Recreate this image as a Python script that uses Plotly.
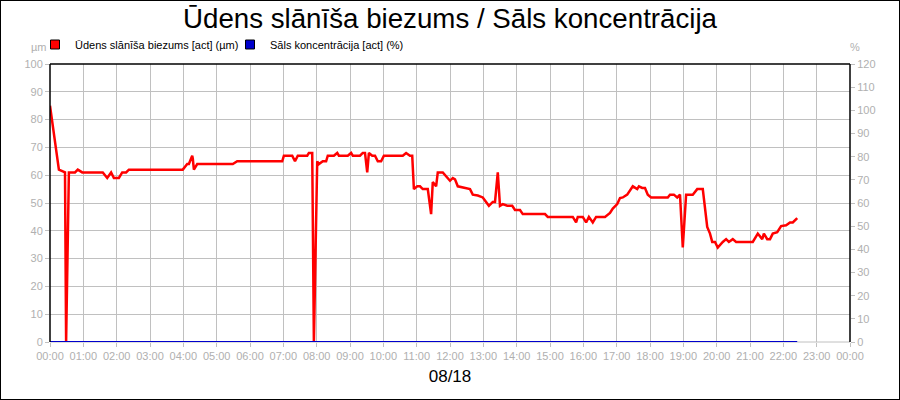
import plotly.graph_objects as go

DAY = "2000-08-18 "

times = [
    "00:00", "00:16", "00:27", "00:29", "00:34", "00:45", "00:50", "00:58",
    "01:35", "01:43", "01:50", "01:55", "02:04", "02:10", "02:17", "02:22",
    "03:59", "04:07", "04:10", "04:16", "04:17", "04:19", "04:25", "05:29",
    "05:37", "06:58", "07:01", "07:16", "07:21", "07:26", "07:43", "07:46",
    "07:52", "07:55", "08:01", "08:04", "08:11", "08:17", "08:20", "08:31",
    "08:37", "08:40", "08:56", "09:02", "09:05", "09:18", "09:23", "09:27",
    "09:31", "09:34", "09:40", "09:45", "09:50", "09:56", "10:01", "10:35",
    "10:41", "10:48", "10:52", "10:55", "11:01", "11:06", "11:11", "11:20",
    "11:26", "11:29", "11:35", "11:38", "11:47", "11:56", "12:00", "12:05",
    "12:09", "12:14", "12:23", "12:36", "12:41", "12:50", "12:59", "13:07",
    "13:10", "13:17", "13:21", "13:26", "13:30", "13:35", "13:43", "13:52",
    "13:57", "14:06", "14:11", "14:51", "14:56", "15:41", "15:47", "15:50",
    "15:59", "16:05", "16:10", "16:17", "16:23", "16:39", "16:48", "16:53",
    "17:01", "17:06", "17:11", "17:19", "17:24", "17:29", "17:37", "17:40",
    "17:46", "17:51", "17:56", "18:02", "18:32", "18:36", "18:43", "18:49",
    "18:54", "18:59", "19:05", "19:17", "19:25", "19:35", "19:43", "19:48",
    "19:52", "19:57", "20:02", "20:06", "20:11", "20:17", "20:22", "20:29",
    "20:35", "21:05", "21:09", "21:14", "21:22", "21:25", "21:31", "21:36",
    "21:41", "21:49", "21:56", "22:05", "22:12", "22:17", "22:25",
]

water_um = [
    85, 62, 61, 0, 61, 61, 62, 61,
    61, 59, 61, 59, 59, 61, 61, 62,
    62, 64, 64, 67, 66, 62, 64, 64,
    65, 65, 67, 67, 65, 67, 67, 68,
    68, 0, 65, 64, 65, 65, 67, 67,
    68, 67, 67, 68, 67, 67, 68, 68,
    61, 68, 67, 67, 65, 65, 67, 67,
    68, 67, 67, 55, 56, 56, 55, 55,
    46, 57.5, 56, 61, 61, 59, 58, 59,
    58.5, 56, 55.5, 55, 53, 52.7, 52, 50,
    49, 50.4, 50.4, 61, 49, 49.6, 49, 49,
    47.5, 47.5, 46, 46, 45, 45, 43, 45,
    45, 43, 45, 43, 45, 45, 46.4, 48,
    49.6, 51.8, 52, 53, 54.7, 56, 55, 56,
    55.4, 55.4, 53, 52, 52, 53, 53, 52,
    53, 34, 53, 53, 55, 55, 41.4, 39,
    36, 36, 34, 35, 36, 37, 36, 37,
    36, 36, 37.4, 39, 37, 39, 37, 37,
    39, 39.5, 41.7, 42, 43, 43, 44.6,
]

salt_pct = [0] * len(times)

x_dt = [DAY + t for t in times]

name_water = "Ūdens slānīša biezums [act] (µm)"
name_salt = "Sāls koncentrācija [act] (%)"
chart_title = "Ūdens slānīša biezums / Sāls koncentrācija"
x_title = "08/18"

RED = "#ff0000"
BLUE = "#0000cc"
GRID = "#c0c0c0"
TICKC = "#b0b0b0"

fig = go.Figure()
fig.add_trace(go.Scatter(x=x_dt, y=water_um, mode="lines", line=dict(color=RED, width=2.5),
                         showlegend=False, yaxis="y"))
fig.add_trace(go.Scatter(x=x_dt, y=salt_pct, mode="lines", line=dict(color=BLUE, width=2),
                         showlegend=False, yaxis="y2"))
# legend entries (square swatches)
fig.add_trace(go.Scatter(x=[None], y=[None], mode="markers", name=name_water, legend="legend",
                         marker=dict(symbol="square", size=9, color=RED, line=dict(color="black", width=1))))
fig.add_trace(go.Scatter(x=[None], y=[None], mode="markers", name=name_salt, legend="legend2",
                         marker=dict(symbol="square", size=9, color=BLUE, line=dict(color="black", width=1))))

leg_common = dict(orientation="h", xanchor="left", yanchor="bottom",
                  xref="container", yref="container",
                  font=dict(size=11, color="black"), bgcolor="rgba(0,0,0,0)")

fig.update_layout(
    width=900, height=400,
    margin=dict(l=50, r=50, t=64, b=58, autoexpand=False),
    paper_bgcolor="white", plot_bgcolor="white",
    font=dict(family="Liberation Sans, Arial, sans-serif", size=11, color="black"),
    title=dict(text=chart_title, x=0.5, xanchor="center",
               xref="container", yref="container",
               y=0.955, yanchor="middle", font=dict(size=27.7, color="black")),
    showlegend=True,
    legend=dict(x=35/900, y=(400-59)/400, **leg_common),
    legend2=dict(x=230/900, y=(400-59)/400, **leg_common),
    xaxis=dict(
        type="date",
        range=["2000-08-18 00:00", "2000-08-19 00:00"],
        dtick=3600000, tick0="2000-08-18 00:00", tickformat="%H:%M",
        showgrid=True, gridcolor=GRID, gridwidth=1,
        ticks="outside", ticklen=4, tickcolor=GRID,
        tickfont=dict(color=TICKC, size=11),
        showline=False, zeroline=False,
        title=dict(text=x_title, font=dict(size=17, color="black"), standoff=8),
        fixedrange=True,
    ),
    yaxis=dict(
        range=[0, 100], dtick=10,
        showgrid=True, gridcolor=GRID, gridwidth=1,
        ticks="outside", ticklen=4, tickcolor=GRID,
        tickfont=dict(color=TICKC, size=11),
        showline=False, zeroline=False,
    ),
    yaxis2=dict(
        range=[0, 120], dtick=10, overlaying="y", side="right",
        showgrid=False, ticks="outside", ticklen=4, tickcolor=GRID,
        tickfont=dict(color=TICKC, size=11),
        showline=False, zeroline=False,
    ),
    annotations=[
        dict(text="µm", xref="paper", yref="paper", x=0, y=1.0, xshift=-1, yshift=9,
             xanchor="right", yanchor="bottom", showarrow=False,
             font=dict(color=TICKC, size=11)),
        dict(text="%", xref="paper", yref="paper", x=1, y=1.0, xshift=-2, yshift=9,
             xanchor="left", yanchor="bottom", showarrow=False,
             font=dict(color=TICKC, size=11)),
    ],
    shapes=[
        # plot frame: left, top, right in black; bottom stays grey
        dict(type="line", xref="paper", yref="paper", x0=0, x1=0, y0=0, y1=1,
             line=dict(color="black", width=1.5)),
        dict(type="line", xref="paper", yref="paper", x0=0, x1=1, y0=1, y1=1,
             line=dict(color="black", width=1.5)),
        dict(type="line", xref="paper", yref="paper", x0=1, x1=1, y0=0, y1=1,
             line=dict(color="black", width=1.5)),
        dict(type="line", xref="paper", yref="paper", x0=0, x1=1, y0=0, y1=0,
             line=dict(color=GRID, width=1), layer="below"),
        # outer border of the whole image
        dict(type="rect", xref="paper", yref="paper",
             x0=-50/800, x1=850/800, y0=-58/278, y1=(278+64)/278,
             line=dict(color="black", width=2), fillcolor="rgba(0,0,0,0)"),
    ],
)

fig.write_html("out.html",
               config={"displayModeBar": False, "staticPlot": True},
               post_script="document.body.style.margin='0';document.body.style.overflow='hidden';")
